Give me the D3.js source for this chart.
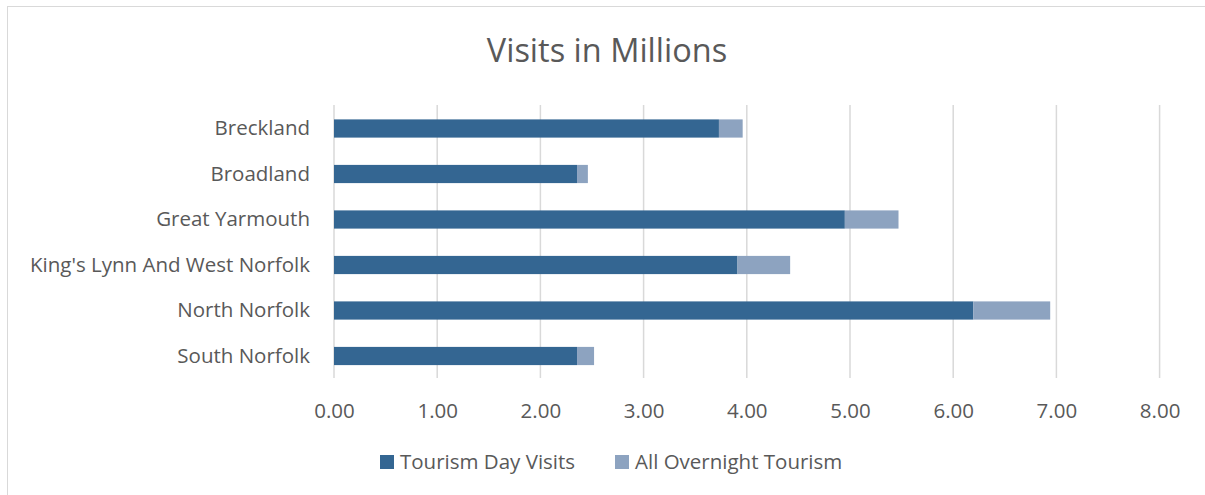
<!DOCTYPE html>
<html><head><meta charset="utf-8">
<script src="https://cdn.jsdelivr.net/npm/d3@7"></script>
<style>body{margin:0;background:#fff;}svg{display:block;font-family:"Open Sans",sans-serif;}</style>
</head><body>
<svg id="c" width="1205" height="495"></svg>
<script>
const categories = ["Breckland","Broadland","Great Yarmouth","King's Lynn And West Norfolk","North Norfolk","South Norfolk"];
const dayVisits = [3.73, 2.355, 4.95, 3.91, 6.195, 2.355];
const overnight = [0.23, 0.105, 0.52, 0.51, 0.745, 0.165];
const seriesNames = ["Tourism Day Visits","All Overnight Tourism"];
const xTicks = [0,1,2,3,4,5,6,7,8];
const colors = ["#346692","#8DA3C0"];

const svg = d3.select("#c");
svg.append("rect").attr("x",7.5).attr("y",6.5).attr("width",1300).attr("height",600)
  .attr("fill","#fff").attr("stroke","#d9d9d9").attr("stroke-width",1);

const x = d3.scaleLinear().domain([0,8]).range([334,1159.6]);
const y = d3.scaleBand().domain(categories).range([105.75,378.75]).paddingInner(0.6).paddingOuter(0.3);

// gridlines
svg.append("g").selectAll("line").data(xTicks).join("line")
  .attr("x1",d=>x(d)).attr("x2",d=>x(d)).attr("y1",105).attr("y2",378)
  .attr("stroke","#d9d9d9").attr("stroke-width",1.5);

// bars
const rows = categories.map((c,i)=>({c, d:dayVisits[i], o:overnight[i]}));
const gb = svg.append("g");
gb.selectAll("rect.day").data(rows).join("rect").attr("class","day")
  .attr("x",x(0)).attr("y",d=>y(d.c)).attr("height",y.bandwidth())
  .attr("width",d=>x(d.d)-x(0)).attr("fill",colors[0]);
gb.selectAll("rect.ov").data(rows).join("rect").attr("class","ov")
  .attr("x",d=>x(d.d)).attr("y",d=>y(d.c)).attr("height",y.bandwidth())
  .attr("width",d=>x(d.d+d.o)-x(d.d)).attr("fill",colors[1]);

// y axis labels
const yAxis = d3.axisLeft(y).tickSize(0).tickPadding(0);
const ya = svg.append("g").attr("transform","translate(310,0)").call(yAxis);
ya.select(".domain").remove();
ya.selectAll("text").attr("fill","#595959").style("font-size","20.5px").style("font-family","'Open Sans',sans-serif");

// x axis labels
const xAxis = d3.axisBottom(x).tickValues(xTicks).tickFormat(d3.format(".2f")).tickSize(0).tickPadding(0);
const xa = svg.append("g").attr("transform","translate(0,403.5)").call(xAxis);
xa.select(".domain").remove();
xa.selectAll("text").attr("fill","#595959").style("font-size","20.5px").style("font-family","'Open Sans',sans-serif");

// title
svg.append("text").attr("x",607).attr("y",62).attr("text-anchor","middle")
  .attr("fill","#595959").style("font-size","32.5px").text("Visits in Millions");

// legend
const legX = [380, 615];
const lg = svg.append("g");
seriesNames.forEach((n,i)=>{
  lg.append("rect").attr("x",legX[i]).attr("y",455).attr("width",14).attr("height",14).attr("fill",colors[i]);
  lg.append("text").attr("x",legX[i]+20).attr("y",469).attr("fill","#595959").style("font-size","20.5px").text(n);
});
</script>
</body></html>
